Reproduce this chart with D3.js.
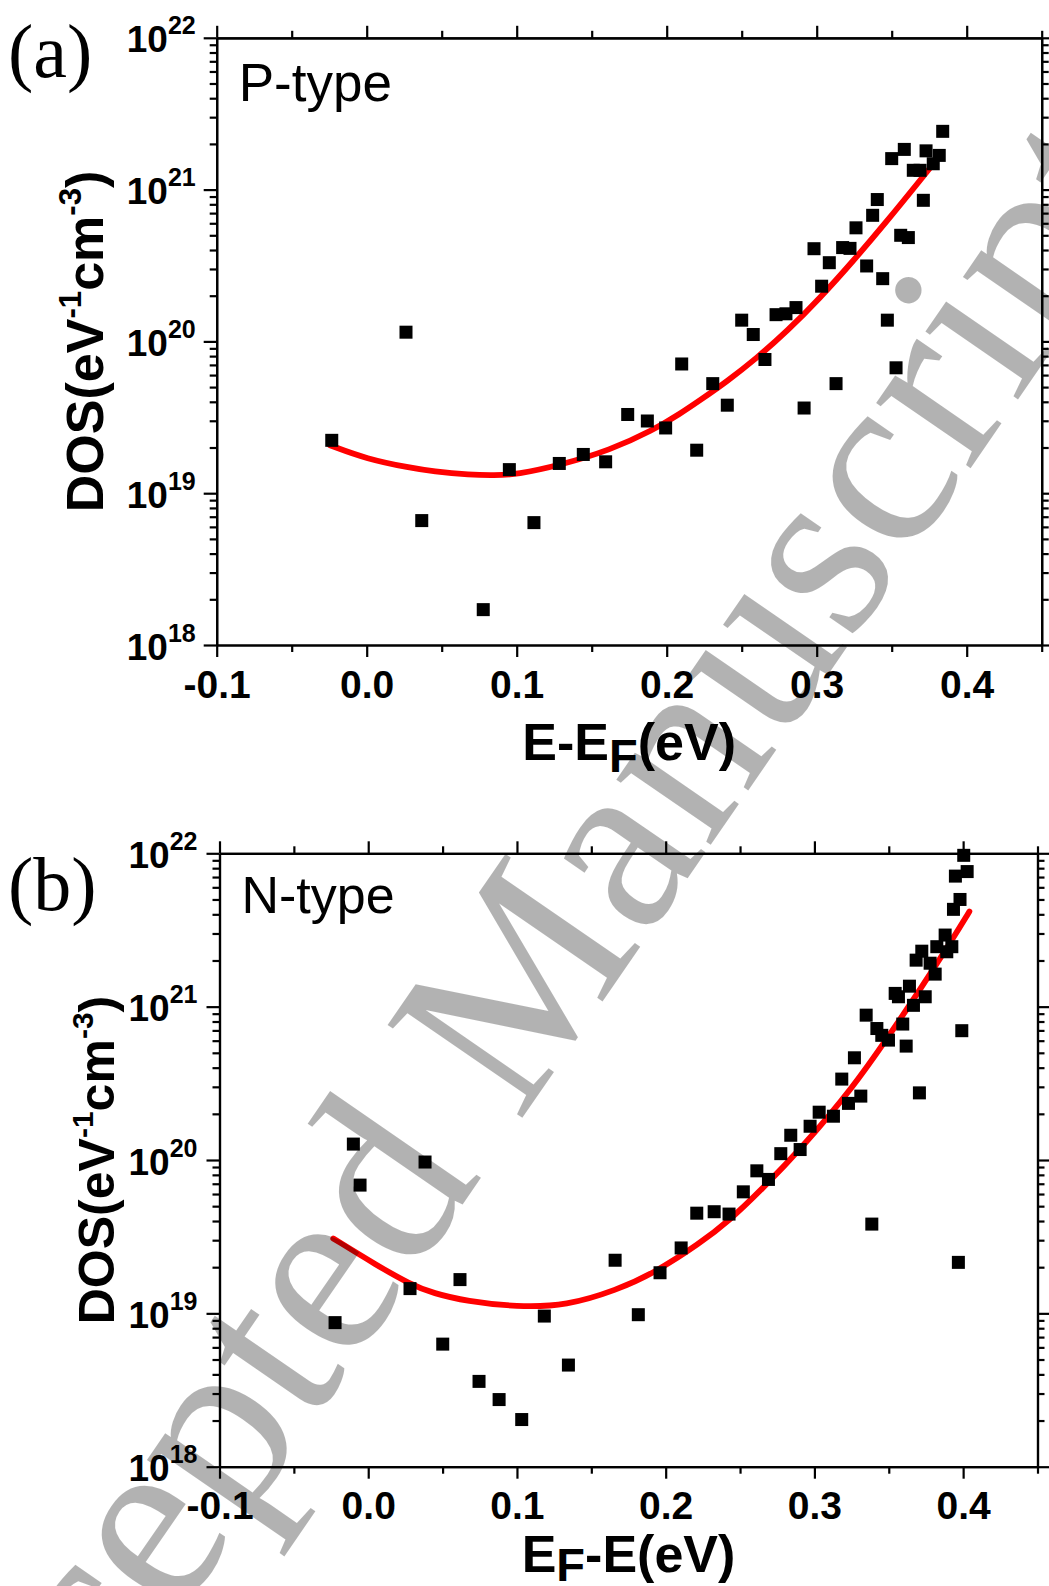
<!DOCTYPE html>
<html><head><meta charset="utf-8">
<script src="https://cdn.jsdelivr.net/npm/d3@7"></script>
<style>
html,body{margin:0;padding:0;background:#fff;}
svg{display:block;}
</style></head><body>
<svg id="chart" width="1049" height="1586"></svg>
<script>
// ---------- data ----------
const xTicks = [-0.1, 0.0, 0.1, 0.2, 0.3, 0.4];
const xTickLabels = ["-0.1", "0.0", "0.1", "0.2", "0.3", "0.4"];
const xMinorTicks = [-0.05, 0.05, 0.15, 0.25, 0.35, 0.45];
const yTickExponents = [18, 19, 20, 21, 22];
const xDomain = [-0.1, 0.45];
const yDomain = [1e18, 1e22];

// P-type (panel a) measured DOS points
const pTypeE = [-0.0233, 0.0262, 0.0367, 0.0777, 0.0951, 0.1115, 0.1284, 0.1444, 0.1593, 0.174,
  0.1871, 0.1993, 0.21, 0.22, 0.2307, 0.2404, 0.25, 0.2577, 0.2655, 0.2729,
  0.2795, 0.2862, 0.2916, 0.2982, 0.3033, 0.3084, 0.3129, 0.3173, 0.3222, 0.3262,
  0.3333, 0.3373, 0.3404, 0.344, 0.3471, 0.3529, 0.35, 0.3584, 0.356, 0.3611,
  0.3644, 0.3689, 0.3711, 0.3729, 0.3777, 0.3817, 0.384];
const pTypeDOS = [2.23e19, 1.15e20, 6.6e18, 1.71e18, 1.43e19, 6.4e18, 1.57e19, 1.8e19, 1.61e19, 3.3e19,
  2.99e19, 2.69e19, 7.1e19, 1.92e19, 5.27e19, 3.8e19, 1.38e20, 1.11e20, 7.6e19, 1.5e20,
  1.52e20, 1.67e20, 3.64e19, 4.08e20, 2.31e20, 3.3e20, 5.27e19, 4.15e20, 4.1e20, 5.6e20,
  3.14e20, 6.77e20, 8.6e20, 2.59e20, 1.38e20, 6.7e19, 1.6e21, 1.84e21, 5.0e20, 4.83e20,
  1.34e21, 1.34e21, 8.5e20, 1.8e21, 1.48e21, 1.68e21, 2.42e21];
// P-type fitted curve
const pFitE = [-0.0245, 0.0, 0.0289, 0.0442, 0.0689, 0.085, 0.1, 0.1289, 0.1622, 0.1909,
  0.2089, 0.2222, 0.24, 0.26, 0.28, 0.3022, 0.3244, 0.3467, 0.3689, 0.3833];
const pFitDOS = [2.07e19, 1.68e19, 1.47e19, 1.39e19, 1.32e19, 1.31e19, 1.33e19, 1.53e19, 1.92e19, 2.6e19,
  3.34e19, 4.1e19, 5.43e19, 7.76e19, 1.16e20, 1.93e20, 3.39e20, 6.17e20, 1.15e21, 1.73e21];

// N-type (panel b) measured DOS points
const nTypeE = [-0.0223, -0.010, -0.0055, 0.0281, 0.0382, 0.0501, 0.0617, 0.0745, 0.088, 0.1032,
  0.1184, 0.1346, 0.166, 0.1816, 0.1962, 0.2104, 0.2209, 0.2326, 0.2426, 0.2522,
  0.2613, 0.2691, 0.2774, 0.2841, 0.2904, 0.2971, 0.3032, 0.3128, 0.3184, 0.3229,
  0.3269, 0.3312, 0.3348, 0.3386, 0.342, 0.3453, 0.3498, 0.3543, 0.3565, 0.3594,
  0.3617, 0.3639, 0.3666, 0.3684, 0.3706, 0.3722, 0.3745, 0.3778, 0.3812, 0.3823,
  0.3879, 0.389, 0.3924, 0.3935, 0.3948, 0.3968, 0.3979, 0.3991, 0.4004, 0.4027];
const nTypeDOS = [8.7e18, 1.27e20, 6.86e19, 1.45e19, 9.7e19, 6.3e18, 1.66e19, 3.6e18, 2.74e18, 2.03e18,
  9.6e18, 4.6e18, 2.22e19, 9.8e18, 1.84e19, 2.67e19, 4.5e19, 4.6e19, 4.44e19, 6.2e19,
  8.5e19, 7.47e19, 1.1e20, 1.45e20, 1.17e20, 1.66e20, 2.05e20, 1.93e20, 3.37e20, 2.34e20,
  4.64e20, 2.61e20, 8.8e20, 3.82e19, 7.2e20, 6.5e20, 6.05e20, 1.22e21, 1.16e21, 7.7e20,
  5.53e20, 1.36e21, 1.02e21, 2.01e21, 2.74e20, 2.3e21, 1.16e21, 1.92e21, 1.63e21, 2.46e21,
  2.93e21, 2.28e21, 2.46e21, 4.31e21, 7.1e21, 2.15e19, 5.0e21, 6.97e20, 9.7e21, 7.6e21];
// N-type fitted curve
const nFitE = [-0.0235, 0.0057, 0.0281, 0.0438, 0.0662, 0.1, 0.1335, 0.1671, 0.1917, 0.2231,
  0.2433, 0.2635, 0.2926, 0.3262, 0.3487, 0.3711, 0.3935, 0.4042];
const nFitDOS = [3.08e19, 2.06e19, 1.55e19, 1.35e19, 1.2e19, 1.1e19, 1.12e19, 1.42e19, 1.82e19, 2.86e19,
  4.07e19, 6.27e19, 1.23e20, 3.0e20, 6.17e20, 1.29e21, 2.82e21, 4.17e21];

// ---------- drawing ----------
const SANS = '"Liberation Sans", Arial, sans-serif';
const SERIF = '"Liberation Serif", "Times New Roman", serif';
const svg = d3.select("#chart");
svg.append("rect").attr("width", 1049).attr("height", 1586).attr("fill", "#fff");

function panel(o) {
  const x = d3.scaleLinear().domain(xDomain).range([o.left, o.right]);
  const y = d3.scaleLog().domain(yDomain).range([o.bottom, o.top]);
  const g = svg.append("g");
  const yMajor = yTickExponents.map(e => Math.pow(10, e));
  const yMinor = [];
  yTickExponents.slice(0, -1).forEach(e => { for (let m = 2; m <= 9; m++) yMinor.push(m * Math.pow(10, e)); });

  const styleAxis = sel => {
    sel.selectAll("path,line").attr("stroke", "#000").attr("stroke-width", 2.2);
  };
  // minor ticks
  g.append("g").attr("transform", `translate(0,${o.bottom})`)
    .call(d3.axisBottom(x).tickValues(xMinorTicks).tickSize(7).tickSizeOuter(0).tickFormat(""))
    .call(styleAxis);
  g.append("g").attr("transform", `translate(0,${o.top})`)
    .call(d3.axisTop(x).tickValues(xMinorTicks).tickSize(7).tickSizeOuter(0).tickFormat(""))
    .call(styleAxis);
  g.append("g").attr("transform", `translate(${o.left},0)`)
    .call(d3.axisLeft(y).tickValues(yMinor).tickSize(7).tickSizeOuter(0).tickFormat(""))
    .call(styleAxis);
  g.append("g").attr("transform", `translate(${o.right},0)`)
    .call(d3.axisRight(y).tickValues(yMinor).tickSize(7).tickSizeOuter(0).tickFormat(""))
    .call(styleAxis);
  // major ticks
  const xb = g.append("g").attr("transform", `translate(0,${o.bottom})`)
    .call(d3.axisBottom(x).tickValues(xTicks).tickSize(12).tickSizeOuter(0)
      .tickFormat((d, i) => xTickLabels[i]))
    .call(styleAxis);
  xb.selectAll("text").attr("y", o.labelDy).attr("dy", 0)
    .attr("fill", "#000")
    .style("font-family", SANS).style("font-size", "39px").style("font-weight", "bold");
  g.append("g").attr("transform", `translate(0,${o.top})`)
    .call(d3.axisTop(x).tickValues(xTicks).tickSize(12).tickSizeOuter(0).tickFormat(""))
    .call(styleAxis);
  const yl = g.append("g").attr("transform", `translate(${o.left},0)`)
    .call(d3.axisLeft(y).tickValues(yMajor).tickSize(13).tickSizeOuter(0).tickFormat(""))
    .call(styleAxis);
  g.append("g").attr("transform", `translate(${o.right},0)`)
    .call(d3.axisRight(y).tickValues(yMajor).tickSize(13).tickSizeOuter(0).tickFormat(""))
    .call(styleAxis);
  // y tick labels 10^n
  yl.selectAll(".tick").each(function(d) {
    const t = d3.select(this).select("text");
    t.text(null).attr("x", -o.supRight).attr("y", 14).attr("dy", 0)
      .attr("text-anchor", "end").attr("fill", "#000")
      .style("font-family", SANS).style("font-size", "37px").style("font-weight", "bold");
    t.append("tspan").text("10");
    t.append("tspan").style("font-size", "25px").attr("dy", -18).text(String(Math.round(Math.log10(d))));
  });

  // fitted curve
  const line = d3.line().x(d => x(d[0])).y(d => y(d[1])).curve(d3.curveBasis);
  g.append("path").datum(o.fitE.map((e, i) => [e, o.fitD[i]]))
    .attr("d", line).attr("fill", "none").attr("stroke", "#ff0000")
    .attr("stroke-width", 5.8).attr("stroke-linecap", "round");
  // points
  const s = 13;
  g.append("g").selectAll("rect").data(o.ptsE.map((e, i) => [e, o.ptsD[i]])).join("rect")
    .attr("x", d => x(d[0]) - s / 2).attr("y", d => y(d[1]) - s / 2)
    .attr("width", s).attr("height", s).attr("fill", "#000");

  // panel letter
  g.append("text").attr("x", 8).attr("y", o.letterY)
    .style("font-family", SERIF).style("font-size", "76px")
    .attr("fill", "#000").text(o.letter);
  // type label
  g.append("text").attr("x", o.left + 22).attr("y", o.top + o.typeDy)
    .style("font-family", SANS).style("font-size", o.typeSize + "px")
    .attr("fill", "#000").text(o.typeLabel);

  // y title
  const ys = o.yTitleSize;
  const yt = g.append("text")
    .attr("transform", `translate(${o.yTitleX},${(o.top + o.bottom) / 2}) rotate(-90)`)
    .attr("text-anchor", "middle").attr("fill", "#000")
    .style("font-family", SANS).style("font-weight", "bold").style("font-size", ys + "px");
  yt.append("tspan").text("DOS(eV");
  yt.append("tspan").style("font-size", (ys * 0.6) + "px").attr("dy", -ys * 0.42).text("-1");
  yt.append("tspan").attr("dy", ys * 0.42).text("cm");
  yt.append("tspan").style("font-size", (ys * 0.6) + "px").attr("dy", -ys * 0.42).text("-3");
  yt.append("tspan").attr("dy", ys * 0.42).text(")");

  // x title
  const xt = g.append("text").attr("x", (o.left + o.right) / 2).attr("y", o.xTitleY)
    .attr("text-anchor", "middle").attr("fill", "#000")
    .style("font-family", SANS).style("font-weight", "bold").style("font-size", "52px");
  o.xTitle(xt);
}

panel({
  left: 216.7, right: 1041.7, top: 37.8, bottom: 645, labelDy: 53, supRight: 21,
  ptsE: pTypeE, ptsD: pTypeDOS, fitE: pFitE, fitD: pFitDOS,
  letter: "(a)", letterY: 77, typeLabel: "P-type", typeDy: 63, typeSize: 53,
  yTitleX: 103, yTitleSize: 52, xTitleY: 760,
  xTitle: t => {
    t.append("tspan").text("E-E");
    t.append("tspan").style("font-size", "47px").attr("dy", 12).text("F");
    t.append("tspan").attr("dy", -12).text("(eV)");
  }
});
panel({
  left: 219.5, right: 1037.5, top: 853.3, bottom: 1466.7, labelDy: 52, supRight: 22,
  ptsE: nTypeE, ptsD: nTypeDOS, fitE: nFitE, fitD: nFitDOS,
  letter: "(b)", letterY: 910, typeLabel: "N-type", typeDy: 60, typeSize: 52,
  yTitleX: 114, yTitleSize: 50, xTitleY: 1572,
  xTitle: t => {
    t.append("tspan").text("E");
    t.append("tspan").style("font-size", "47px").attr("dy", 9).text("F");
    t.append("tspan").attr("dy", -9).text("-E(eV)");
  }
});

// watermark
svg.append("text")
  .attr("transform", "translate(447,1227) rotate(-55.4)")
  .attr("x", -881).attr("y", 0)
  .style("font-family", SERIF).style("font-size", "250px")
  .attr("fill", "#000").attr("fill-opacity", 0.3)
  .text("Accepted Manuscript");
</script>
</body></html>
